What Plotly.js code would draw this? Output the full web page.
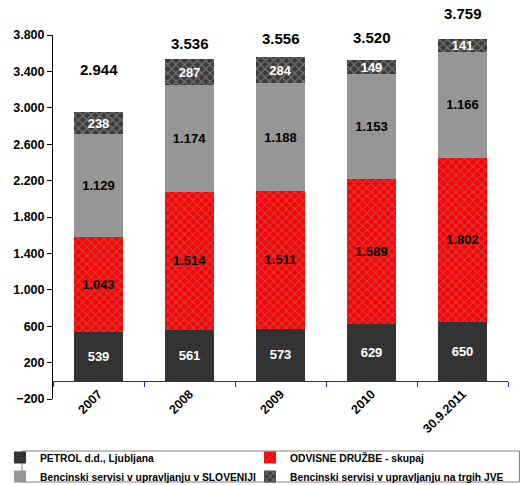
<!DOCTYPE html>
<html><head><meta charset="utf-8">
<script src="https://cdn.plot.ly/plotly-3.0.1.min.js"></script>
<style>html,body{margin:0;padding:0;background:#fff}#c{width:520px;height:485px}</style>
</head><body><div id="c"></div>
<script>
const categories = ['2007', '2008', '2009', '2010', '30.9.2011'];
const petrol = [539, 561, 573, 629, 650];
const odvisne = [1043, 1514, 1511, 1589, 1802];
const bsSlovenija = [1129, 1174, 1188, 1153, 1166];
const bsJve = [238, 287, 284, 149, 141];
const totals = [2944, 3536, 3556, 3520, 3759];
const seriesNames = ['PETROL d.d., Ljubljana', 'ODVISNE DRUŽBE - skupaj', 'Bencinski servisi v upravljanju v SLOVENIJI', 'Bencinski servisi v upravljanju na trgih JVE'];
const totalShift = [33, 5, 8, 12, 15];

const F = 'Liberation Sans, Arial, sans-serif';
function bar(name, y, color, txtColor, legendId, pattern) {
  const t = {
    type: 'bar', name: name, x: categories, y: y, legend: legendId,
    marker: {color: color, line: {width: 0}},
    width: 0.54,
    texttemplate: '%{y:,d}',
    textposition: 'inside', insidetextanchor: 'middle', constraintext: 'none',
    textangle: 0,
    textfont: {family: F, size: 13, color: txtColor, weight: 'bold'},
    hoverinfo: 'skip'
  };
  if (pattern) t.marker.pattern = pattern;
  return t;
}
const data = [
  bar(seriesNames[0], petrol, '#333333', '#ffffff', 'legend'),
  bar(seriesNames[1], odvisne, '#ff0000', '#000000', 'legend2', {shape: 'x', fillmode: 'overlay', fgcolor: '#8a8a8a', size: 6, solidity: 0.35}),
  bar(seriesNames[2], bsSlovenija, '#969696', '#000000', 'legend'),
  bar(seriesNames[3], bsJve, '#3a3a3a', '#ffffff', 'legend2', {shape: 'x', fillmode: 'overlay', fgcolor: '#a8a8a8', size: 6, solidity: 0.4})
];
const annotations = categories.map((c, i) => ({
  x: i, y: totals[i], xref: 'x', yref: 'y', text: totals[i].toLocaleString('de-DE'),
  showarrow: false, yanchor: 'bottom', yshift: totalShift[i],
  font: {family: F, size: 15, color: '#000', weight: 'bold'}
}));
function legendOpts(xPos) {
  return {
    orientation: 'h', xref: 'container', yref: 'container', xanchor: 'left', x: xPos,
    y: 0.0866, yanchor: 'top', traceorder: 'normal', entrywidth: 228,
    bgcolor: 'rgba(0,0,0,0)', borderwidth: 0, tracegroupgap: 0,
    font: {family: F, size: 10.3, color: '#000', weight: 'bold'},
    itemclick: false
  };
}
const layout = {
  width: 520, height: 485,
  margin: {l: 53, r: 12, t: 35, b: 86},
  barmode: 'stack', bargap: 0.46,
  separators: ',.',
  paper_bgcolor: '#fff', plot_bgcolor: '#fff',
  showlegend: true,
  uniformtext: {mode: 'show', minsize: 13},
  font: {family: F, size: 12, color: '#000'},
  xaxis: {
    type: 'category', anchor: 'free', position: 0.05,
    range: [-0.5, 4.5], autorange: false, automargin: false,
    showline: true, linecolor: '#2b2b8c', linewidth: 1,
    ticks: 'outside', tickson: 'boundaries', ticklen: 5, tickcolor: '#2b2b8c',
    tickangle: -45, tickfont: {family: F, size: 12.5, color: '#000', weight: 'bold'},
    showgrid: false, zeroline: false
  },
  yaxis: {
    range: [-200, 3800], autorange: false, automargin: false, tick0: -200, dtick: 400, tickformat: ',d',
    showline: true, linecolor: '#000', linewidth: 1,
    ticks: 'outside', ticklen: 5, tickcolor: '#000',
    tickfont: {family: F, size: 12.5, color: '#000', weight: 'bold'},
    showgrid: false, zeroline: false
  },
  legend: legendOpts(0.0),
  legend2: legendOpts(0.4808),
  shapes: [{
    type: 'rect', xref: 'paper', yref: 'paper',
    x0: -0.0681, x1: 1.0253, y0: -0.2280, y1: -0.1429,
    line: {color: '#7f7f7f', width: 1}, fillcolor: 'rgba(0,0,0,0)', layer: 'above'
  }],
  annotations: annotations
};
Plotly.newPlot('c', data, layout, {staticPlot: true});
</script></body></html>
